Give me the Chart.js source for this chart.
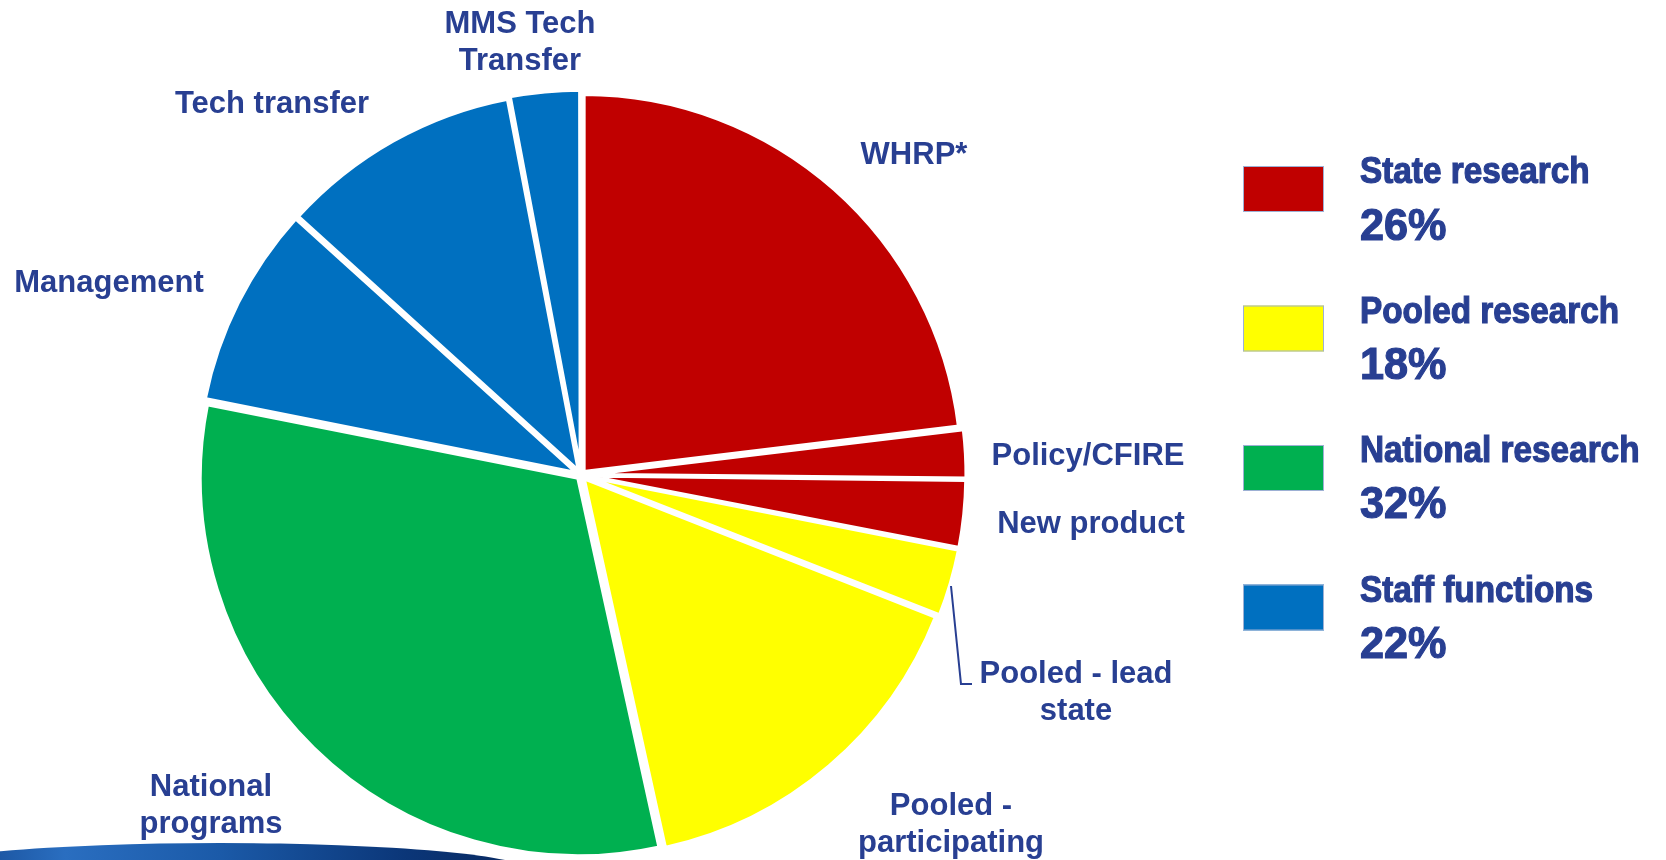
<!DOCTYPE html>
<html>
<head>
<meta charset="utf-8">
<script src="https://cdn.jsdelivr.net/npm/chart.js@4.4.1/dist/chart.umd.min.js"></script>
<style>
  html, body { margin: 0; padding: 0; background: #fff; }
  #wrap { position: relative; width: 1666px; height: 860px; overflow: hidden; }
  #band {
    position: absolute; left: -90px; top: 843px; width: 620px; height: 56px;
    border-radius: 50%;
    background: linear-gradient(90deg, #0d3b80 0%, #2a6ec0 25%, #1b5aa8 50%, #0b3678 80%, #08285e 100%);
  }
  canvas { position: absolute; left: 0; top: 0; }
</style>
</head>
<body>
<div id="wrap">
  <div id="band"></div>
  <canvas id="pieChart" width="1666" height="860"></canvas>
</div>

<script>
    // slices, clockwise from 12 o'clock
    var sliceLabels = ["WHRP*", "Policy/CFIRE", "New product", "Pooled - lead state",
                       "Pooled - participating", "National programs", "Management",
                       "Tech transfer", "MMS Tech Transfer"];
    var sliceValues = [23.1, 2.1, 2.9, 2.9, 15.6, 31.6, 8.6, 10.3, 3.0];
    var sliceGroup  = [0, 0, 0, 1, 1, 2, 3, 3, 3];

    // legend groups
    var groupNames   = ["State research", "Pooled research", "National research", "Staff functions"];
    var groupPercent = ["26%", "18%", "32%", "22%"];
    var groupColors  = ["#C00000", "#FFFF00", "#00B050", "#0070C0"];

    var textColor = "#283F92";

    // label text lines + where they sit (centre x, first baseline)
    var labelLines = [["WHRP*"], ["Policy/CFIRE"], ["New product"], ["Pooled - lead", "state"],
                      ["Pooled -", "participating"], ["National", "programs"], ["Management"],
                      ["Tech transfer"], ["MMS Tech", "Transfer"]];
    var labelPos = [[914, 164], [1088, 465], [1091, 533], [1076, 683],
                    [951, 815], [211, 796], [109, 292], [272, 113], [520, 33]];

    // narrow heavy text (no condensed Arial installed, so squeeze + thicken)
    function narrowText(ctx, txt, x, y, size, squeeze) {
        ctx.save();
        ctx.translate(x, y);
        ctx.scale(squeeze, 1);
        ctx.font = 'bold ' + size + 'px "Liberation Sans", Arial, sans-serif';
        ctx.fillText(txt, 0, 0);
        ctx.strokeStyle = textColor;
        ctx.lineWidth = 1.2;
        ctx.strokeText(txt, 0, 0);
        ctx.restore();
    }

    var labelsPlugin = {
        id: 'sliceText',
        afterDraw: function(chart) {
            var ctx = chart.ctx;
            ctx.save();
            ctx.fillStyle = textColor;
            ctx.textAlign = 'center';
            ctx.textBaseline = 'alphabetic';
            ctx.font = 'bold 31px "Liberation Sans", Arial, sans-serif';
            labelLines.forEach(function(lines, i) {
                lines.forEach(function(t, j) {
                    ctx.fillText(t, labelPos[i][0], labelPos[i][1] + j * 37);
                });
            });

            // leader line for the small pooled slice
            ctx.strokeStyle = textColor;
            ctx.lineWidth = 2;
            ctx.beginPath();
            ctx.moveTo(951, 586);
            ctx.lineTo(961, 684);
            ctx.lineTo(972, 684);
            ctx.stroke();

            // legend
            ctx.textAlign = 'left';
            groupNames.forEach(function(name, i) {
                var y = 166 + i * 139.5;
                ctx.fillStyle = groupColors[i];
                ctx.fillRect(1243, y, 81, 46);
                ctx.strokeStyle = '#9DB0D4';
                ctx.lineWidth = 1;
                ctx.strokeRect(1243.5, y + 0.5, 80, 45);
                ctx.fillStyle = textColor;
                narrowText(ctx, name, 1360, 183 + i * 139.5, 37, 0.9);
                narrowText(ctx, groupPercent[i], 1360, 240 + i * 139.2, 45, 0.96);
            });
            ctx.restore();
        }
    };

    var ctxP = document.getElementById("pieChart").getContext('2d');
    var myPieChart = new Chart(ctxP, {
        type: 'pie',
        data: {
            labels: sliceLabels,
            datasets: [
                {
                    data: sliceValues,
                    backgroundColor: sliceGroup.map(function(g) { return groupColors[g]; }),
                    borderColor: '#ffffff',
                    borderWidth: 4,
                    offset: 16,
                    radius: 378
                }
            ]
        },
        options: {
            responsive: false,
            animation: false,
            layout: { padding: { left: 181, right: 685, top: 90, bottom: 0 } },
            plugins: {
                legend: { display: false },
                tooltip: { enabled: false }
            }
        },
        plugins: [labelsPlugin]
    });
</script>
</body>
</html>
